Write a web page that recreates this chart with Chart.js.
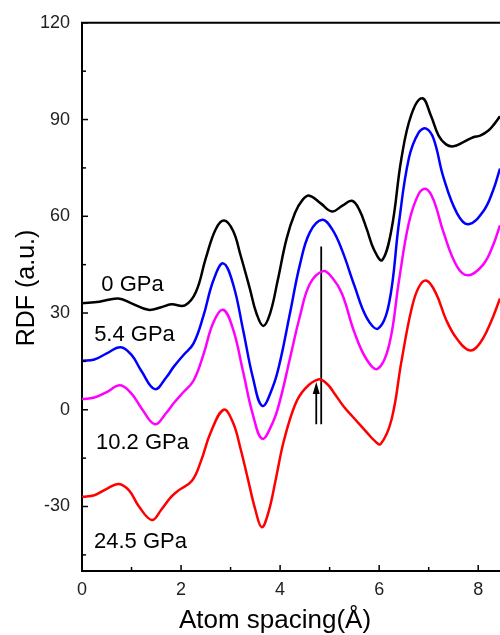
<!DOCTYPE html>
<html><head><meta charset="utf-8">
<script src="https://cdn.jsdelivr.net/npm/chart.js@4.4.1/dist/chart.umd.min.js"></script>
<style>html,body{margin:0;padding:0;background:#fff}#wrap{width:500px;height:635px}</style>
</head><body><div id="wrap"><canvas id="c" width="500" height="635"></canvas></div>
<script>
// Series data (x in Å, y in a.u.)
const x0 = [0,0.35,0.73,1.0,1.34,1.6,1.8,2.08,2.3,2.5,2.7,2.87,3.05,3.2,3.39,3.52,3.66,3.8,3.95,4.13,4.3,4.45,4.59,4.82,5.05,5.25,5.45,5.6,5.75,5.9,6.06,6.25,6.45,6.65,6.87,7.05,7.2,7.35,7.5,7.7,7.9,8.04,8.2,8.32,8.44];
const y0 = [33,33.5,34.5,33,31,31.8,32.7,32.4,36.5,47,56,58.7,55.5,48,37.5,30,26,30,40,53,61,65,66.4,64,61.5,63.2,64.8,62,56,49.5,46.4,56,78,91.5,96.6,91,85,82.3,81.7,83,84.5,85,86.5,88.5,91];
const x54 = [0,0.25,0.5,0.78,1.0,1.2,1.47,1.7,1.85,2.05,2.25,2.45,2.65,2.85,3.05,3.25,3.45,3.64,3.85,4.0,4.2,4.4,4.6,4.85,5.05,5.25,5.5,5.75,5.98,6.2,6.4,6.6,6.8,6.95,7.1,7.3,7.57,7.8,8.1,8.3,8.44];
const y54 = [15.2,15.6,17.5,19.4,17,12,6.4,10,13.3,17,20.5,29,40,45.4,39,25,10,1.2,7,15,30,45,55,58.9,56,49.5,38.5,28.5,25.2,33,58,78,86,87.2,84,72,61,57.5,61.5,68,74.8];
const x102 = [0,0.25,0.5,0.77,1.0,1.2,1.47,1.7,1.85,2.05,2.25,2.45,2.65,2.85,3.05,3.25,3.45,3.64,3.85,4.0,4.2,4.4,4.6,4.87,5.05,5.25,5.5,5.75,5.97,6.2,6.4,6.6,6.8,6.95,7.1,7.3,7.57,7.8,8.1,8.3,8.44];
const y102 = [3.3,3.8,5.5,7.6,5,0.5,-4.5,-1,2,5.5,9,17,27,31,25,12,-1.5,-9,-4,3,16,29,39,43,41,36,24,15.5,12.7,20,40,58,67,68.5,65,55,44.5,41.7,45,51,57.2];
const x245 = [0,0.25,0.5,0.74,0.95,1.15,1.41,1.6,1.8,1.95,2.22,2.4,2.6,2.86,3.05,3.2,3.35,3.5,3.63,3.77,3.92,4.07,4.3,4.5,4.77,4.95,5.1,5.28,5.48,5.75,5.9,6.03,6.25,6.45,6.65,6.8,6.96,7.15,7.35,7.57,7.84,8.05,8.25,8.44];
const y245 = [-27,-26.5,-24.5,-23,-25,-30,-34.2,-31,-27,-25,-22,-16,-7,0,-4,-12,-21.5,-31,-36.4,-31.5,-21,-10,1.5,6.5,9.4,8,5,1.1,-2.4,-7,-9.5,-10.6,-3,15,31,38,40,36,28,22,18.4,21,27,34.5];
const seriesLabels = ['0 GPa','5.4 GPa','10.2 GPa','24.5 GPa'];
const labelPos = [[1.02,38.8],[1.06,23.3],[1.22,-10.3],[1.18,-40.9]];
const markerLineX = [4.83,4.83], markerLineY = [50.6,-4.5];
const arrowX = [4.73,4.73], arrowY = [-4.5,8.6];
const xTicks = [0,2,4,6,8];
const yTicks = [-30,0,30,60,90,120];
const xTitle = 'Atom spacing(Å)', yTitle = 'RDF (a.u.)';

const pts = (xs, ys) => xs.map((x,i)=>({x, y: ys[i]}));
const curve = (xs, ys, color) => ({data: pts(xs,ys), borderColor: color, borderWidth: 2.5, pointRadius: 0, tension: 0.4, fill: false});
const FONT = '"Liberation Sans", Arial, sans-serif';

const extras = {
  id: 'extras',
  afterDatasetsDraw(chart) {
    const {ctx, chartArea: a, scales: {x, y}} = chart;
    ctx.save();
    ctx.strokeStyle = '#000'; ctx.lineWidth = 2;
    ctx.beginPath(); ctx.moveTo(a.left-1, a.top); ctx.lineTo(a.right, a.top); ctx.stroke();
    ctx.lineWidth = 1.5;
    for (let v = -45; v <= 120; v += 15) {
      const py = y.getPixelForValue(v);
      const len = (v % 30 === 0) ? 6 : 4;
      ctx.beginPath(); ctx.moveTo(a.left, py); ctx.lineTo(a.left + len, py); ctx.stroke();
    }
    for (let v = 1; v <= 8; v += 1) {
      const px = x.getPixelForValue(v);
      const len = (v % 2 === 0) ? 6 : 4;
      ctx.beginPath(); ctx.moveTo(px, a.bottom); ctx.lineTo(px, a.bottom - len); ctx.stroke();
    }
    const tx = x.getPixelForValue(arrowX[1]), ty = y.getPixelForValue(arrowY[1]);
    ctx.fillStyle = '#000';
    ctx.beginPath(); ctx.moveTo(tx, ty); ctx.lineTo(tx-3.5, ty+12); ctx.lineTo(tx+3.5, ty+12); ctx.closePath(); ctx.fill();
    ctx.font = '22px ' + FONT;
    ctx.textAlign = 'center'; ctx.textBaseline = 'middle';
    seriesLabels.forEach((t,i)=>{
      ctx.fillText(t, x.getPixelForValue(labelPos[i][0]), y.getPixelForValue(labelPos[i][1]));
    });
    ctx.font = '26px ' + FONT;
    ctx.fillText(xTitle, a.left + 193, a.bottom + 50);
    ctx.translate(27, 288); ctx.rotate(-Math.PI/2);
    ctx.font = '25px ' + FONT;
    ctx.fillText(yTitle, 0, 0);
    ctx.restore();
  }
};

new Chart(document.getElementById('c'), {
  type: 'line',
  data: {
    datasets: [
      curve(x0, y0, '#000000'),
      curve(x54, y54, '#0000ff'),
      curve(x102, y102, '#ff00ff'),
      curve(x245, y245, '#ff0000'),
      {data: pts(markerLineX, markerLineY), borderColor: '#000', borderWidth: 1.8, pointRadius: 0, fill: false},
      {data: pts(arrowX, [arrowY[0], arrowY[1]-3]), borderColor: '#000', borderWidth: 1.8, pointRadius: 0, fill: false}
    ]
  },
  options: {
    responsive: false, animation: false,
    layout: {padding: {top: 11, right: 0, left: 0, bottom: 0}},
    plugins: {legend: {display: false}, tooltip: {enabled: false}},
    scales: {
      x: {
        type: 'linear', min: 0, max: 8.44,
        afterFit: s => { s.height = 64; },
        afterBuildTicks: s => { s.ticks = xTicks.map(v=>({value:v})); },
        grid: {display: true, drawOnChartArea: false, drawTicks: false},
        border: {display: true, color: '#000', width: 2},
        ticks: {color: '#222', padding: 8, font: {size: 18, family: FONT}, maxRotation: 0, autoSkip: false}
      },
      y: {
        type: 'linear', min: -50, max: 120,
        afterFit: s => { s.width = 82; },
        afterBuildTicks: s => { s.ticks = yTicks.map(v=>({value:v})); },
        grid: {display: true, drawOnChartArea: false, drawTicks: false},
        border: {display: true, color: '#000', width: 2},
        ticks: {color: '#222', padding: 12, font: {size: 18, family: FONT}, autoSkip: false}
      }
    }
  },
  plugins: [extras]
});
</script></body></html>
